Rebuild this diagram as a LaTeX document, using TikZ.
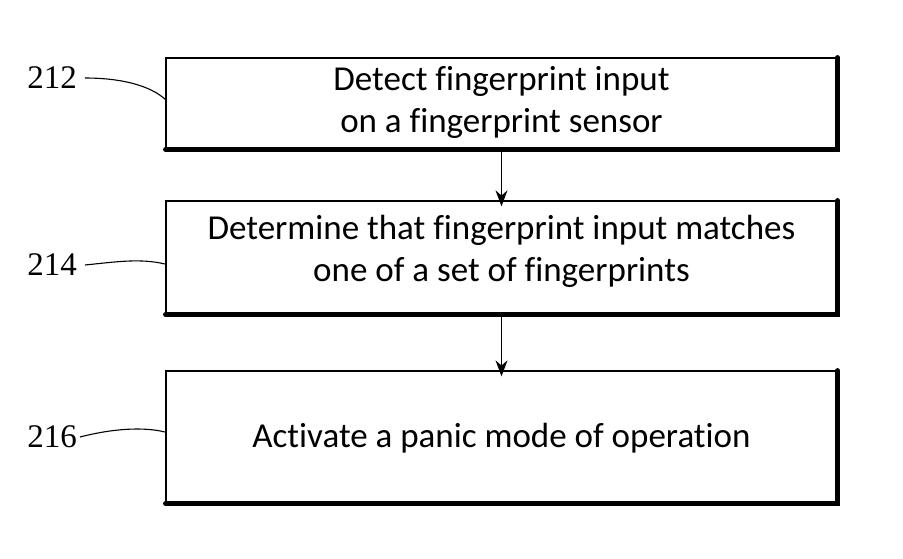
\documentclass[tikz,border=0pt]{standalone}
\usepackage{fontspec}
\setmainfont[Ligatures=NoCommon]{Carlito}
\newfontfamily\labelfont{Liberation Serif}
\usetikzlibrary{arrows.meta}
\begin{document}
\begin{tikzpicture}[x=1pt,y=-1pt,
  stepbox/.style={draw=black,line width=1.3pt,rectangle,minimum width=671pt,inner sep=0pt},
  steptext/.style={align=center,font=\fontsize{35}{42}\selectfont,inner sep=0pt},
  reflabel/.style={font=\labelfont\fontsize{33}{33}\selectfont,inner sep=0pt},
  leader/.style={line width=1.1pt},
  flow/.style={line width=1.2pt,-{Stealth[length=16pt,width=12pt]}}]
\useasboundingbox (0,0) rectangle (903,558);
\node[stepbox,minimum height=91pt] (b1) at (501.5,103.5) {};
\node[stepbox,minimum height=113pt] (b2) at (501.5,257.5) {};
\node[stepbox,minimum height=132pt] (b3) at (501.5,437) {};
\node[steptext] (t1) at (501.5,102) {Detect fingerprint input\\on a fingerprint sensor};
\node[steptext] (t2) at (501.5,251) {Determine that fingerprint input matches\\one of a set of fingerprints};
\node[steptext] (t3) at (501.5,438) {Activate a panic mode of operation};
% shadow edges
\foreach \b in {b1,b2,b3}{
  \draw[line width=4.5pt,line cap=round] (\b.north east) -- (\b.south east) -- (\b.south west);
}
\draw[flow] (b1.south) -- ([yshift=-6pt]b2.north);
\draw[line width=1.2pt] (b1.south) -- (b2.north);
\draw[flow] (b2.south) -- ([yshift=-6pt]b3.north);
\draw[line width=1.2pt] (b2.south) -- (b3.north);
% labels
\node[reflabel] (l1) at (52,78) {212};
\node[reflabel] (l2) at (52,265) {214};
\node[reflabel] (l3) at (52,437) {216};
\coordinate (c1) at (166,100);
\coordinate (c2) at (165,264);
\coordinate (c3) at (165,432);
\draw[leader] ([xshift=8pt]l1.east) .. controls (120,78) and (150,85) .. (c1);
\draw[leader] ([xshift=8pt]l2.east) .. controls (115,262) and (140,258) .. (c2);
\draw[leader] ([xshift=3pt]l3.east) .. controls (115,428) and (145,427) .. (c3);
\end{tikzpicture}
\end{document}
